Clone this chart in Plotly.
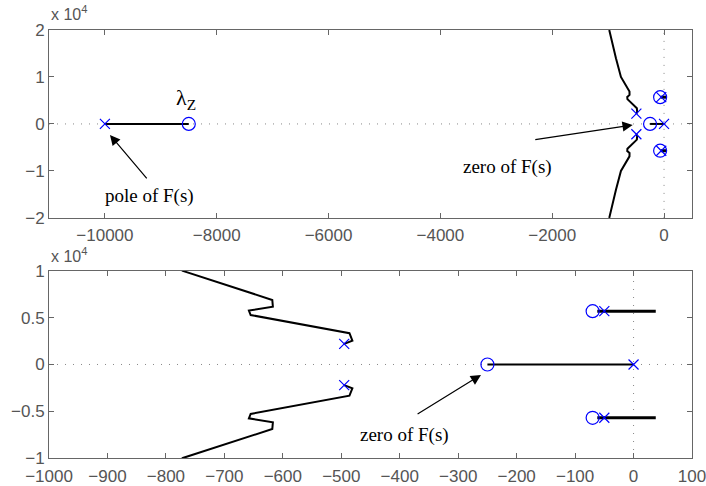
import plotly.graph_objects as go
from plotly.subplots import make_subplots

# ---- data ----
locus_x = [-495, -481, -486, -655, -658, -617, -618, -771, -860, -980]
locus_y = [2200, 2550, 3340, 5290, 5760, 6180, 6900, 10000, 14000, 20000]

far_branch_x = [-10000, -8500]
far_branch_y = [0, 0]

real_branch_x = [-250, 0]
real_branch_y = [0, 0]

cplx_branch_x = [-62, 38]
cplx_branch_y = [5700, 5700]

poles_x = [-10000, 0, -495, -495, -50, -50]
poles_y = [0, 0, 2200, -2200, 5700, -5700]
zeros_x = [-8500, -250, -70, -70]
zeros_y = [0, 0, 5700, -5700]

top_xticks = [-10000, -8000, -6000, -4000, -2000, 0]
top_yticks = [-20000, -10000, 0, 10000, 20000]
top_ytext = ["\u22122", "\u22121", "0", "1", "2"]
bot_xticks = [-1000, -900, -800, -700, -600, -500, -400, -300, -200, -100, 0, 100]
bot_yticks = [-10000, -5000, 0, 5000, 10000]
bot_ytext = ["\u22121", "\u22120.5", "0", "0.5", "1"]

fig = make_subplots(rows=2, cols=1, vertical_spacing=0.0)

DOT = "1px,7px"
GRAY = "#888888"
for row, (xr, yr) in enumerate([([-11000, 500], [-20000, 20000]),
                                 ([-1000, 100], [-10000, 10000])], start=1):
    fig.add_trace(go.Scatter(x=xr, y=[0, 0], mode="lines",
                             line=dict(color=GRAY, width=1, dash=DOT),
                             showlegend=False, hoverinfo="skip"), row=row, col=1)
    fig.add_trace(go.Scatter(x=[0, 0], y=yr, mode="lines",
                             line=dict(color=GRAY, width=1, dash=DOT),
                             showlegend=False, hoverinfo="skip"), row=row, col=1)
    fig.add_trace(go.Scatter(x=locus_x, y=locus_y, mode="lines",
                             line=dict(color="black", width=2),
                             showlegend=False), row=row, col=1)
    fig.add_trace(go.Scatter(x=locus_x, y=[-v for v in locus_y], mode="lines",
                             line=dict(color="black", width=2),
                             showlegend=False), row=row, col=1)
    fig.add_trace(go.Scatter(x=far_branch_x, y=far_branch_y, mode="lines",
                             line=dict(color="black", width=2),
                             showlegend=False), row=row, col=1)
    fig.add_trace(go.Scatter(x=real_branch_x, y=real_branch_y, mode="lines",
                             line=dict(color="black", width=2),
                             showlegend=False), row=row, col=1)
    fig.add_trace(go.Scatter(x=cplx_branch_x, y=cplx_branch_y, mode="lines",
                             line=dict(color="black", width=3),
                             showlegend=False), row=row, col=1)
    fig.add_trace(go.Scatter(x=cplx_branch_x, y=[-v for v in cplx_branch_y], mode="lines",
                             line=dict(color="black", width=3),
                             showlegend=False), row=row, col=1)
    fig.add_trace(go.Scatter(x=zeros_x, y=zeros_y, mode="markers",
                             marker=dict(symbol="circle-open", size=13,
                                         color="#0000ff", line=dict(width=1.2)),
                             showlegend=False), row=row, col=1)
    fig.add_trace(go.Scatter(x=poles_x, y=poles_y, mode="markers",
                             marker=dict(symbol="x-thin-open", size=10,
                                         color="#0000ff", line=dict(width=1.2, color="#0000ff")),
                             showlegend=False), row=row, col=1)

TICKFONT = dict(family="Liberation Sans, Arial", size=17, color="#555555")
axis_common = dict(showline=True, linecolor="#666666", linewidth=1, mirror="ticks",
                   ticks="inside", ticklen=5, tickcolor="#666666", showgrid=False,
                   zeroline=False, automargin=False, tickfont=TICKFONT,
                   ticklabeloverflow="allow")

def neg(v):
    return "\u2212" + str(abs(v)) if v < 0 else str(v)

fig.update_xaxes(range=[-11000, 500], tickvals=top_xticks, ticklabelstandoff=2,
                 ticktext=[neg(v) for v in top_xticks], row=1, col=1, **axis_common)
fig.update_yaxes(range=[-20000, 20000], tickvals=top_yticks, ticktext=top_ytext,
                 row=1, col=1, domain=[0.561, 1.0], **axis_common)
fig.update_xaxes(range=[-1000, 100], tickvals=bot_xticks, ticklabelstandoff=3,
                 ticktext=[neg(v) for v in bot_xticks], row=2, col=1, **axis_common)
fig.update_yaxes(range=[-10000, 10000], tickvals=bot_yticks, ticktext=bot_ytext,
                 row=2, col=1, domain=[0.0, 0.437], **axis_common)

SERIF = "Liberation Serif, Times New Roman"
TXT = dict(family=SERIF, size=19, color="black")
ann = []
for (hx, hy, tx, ty, xr, yr) in [(-9910, -2340, -9229, -11915, "x", "y"),
                                 (-561, -213, -2330, -3400, "x", "y"),
                                 (-261, -1120, -372, -5400, "x2", "y2")]:
    ann.append(dict(x=hx, y=hy, ax=tx, ay=ty, xref=xr, yref=yr, axref=xr, ayref=yr,
                    showarrow=True, arrowhead=2, arrowsize=1.7, arrowwidth=1.2,
                    arrowcolor="black", text=""))
ann.append(dict(x=-9194, y=-15320, xref="x", yref="y", text="pole of F(s)",
                showarrow=False, font=TXT))
ann.append(dict(x=-2796, y=-9150, xref="x", yref="y", text="zero of F(s)",
                showarrow=False, font=TXT))
ann.append(dict(x=-391, y=-7540, xref="x2", yref="y2", text="zero of F(s)",
                showarrow=False, font=TXT))
ann.append(dict(x=-8550, y=5300, xref="x", yref="y", text="\u03bb<sub>Z</sub>",
                showarrow=False, font=dict(family=SERIF, size=22, color="black")))
EXPFONT = dict(family="Liberation Sans, Arial", size=16, color="#555555")
ann.append(dict(x=0, y=1.04, xref="paper", yref="paper", xanchor="left", yanchor="middle",
                text="x 10<sup>4</sup>", showarrow=False, font=EXPFONT))
ann.append(dict(x=0, y=0.474, xref="paper", yref="paper", xanchor="left", yanchor="middle",
                text="x 10<sup>4</sup>", showarrow=False, font=EXPFONT))

fig.update_layout(width=706, height=486, margin=dict(l=49, r=14, t=30, b=28),
                  plot_bgcolor="white", paper_bgcolor="white", annotations=ann,
                  showlegend=False)

fig.write_html("out.html")
